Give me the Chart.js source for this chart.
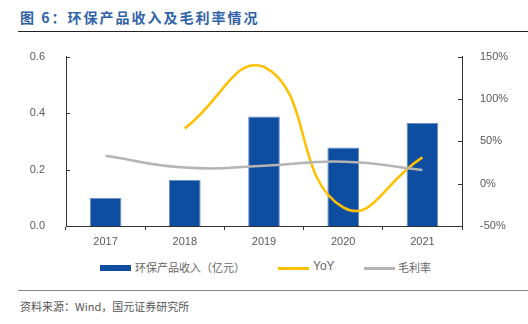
<!DOCTYPE html>
<html lang="zh">
<head>
  <meta charset="UTF-8" />
  <title>环保产品收入及毛利率情况</title>
  <style>
    body {
      margin: 0;
      width: 528px;
      height: 324px;
      background: #fff;
      position: relative;
      overflow: hidden;
      font-family: "Liberation Sans", Arial, sans-serif;
    }
    .title {
      position: absolute;
      left: 20px;
      top: 7px;
      font-family: "Noto Sans CJK SC", sans-serif;
      font-size: 14px;
      font-weight: bold;
      color: #2f62a8;
      letter-spacing: 2px;
    }
    .rule-top {
      position: absolute;
      left: 18px;
      right: 0;
      top: 31px;
      border-top: 1.5px solid #222;
    }
    .rule-bottom {
      position: absolute;
      left: 18px;
      right: 0;
      top: 290px;
      border-top: 1.5px solid #888;
    }
    .source {
      position: absolute;
      left: 20px;
      top: 298px;
      font-family: "Noto Sans CJK SC", sans-serif;
      font-size: 11px;
      color: #555;
    }
    #wrap {
      position: absolute;
      left: 0;
      top: 37px;
      width: 528px;
      height: 219px;
    }
    .legend {
      position: absolute;
      top: 259px;
      left: 0;
      width: 528px;
      font-family: "Noto Sans CJK SC", sans-serif;
      font-size: 11px;
      color: #666;
    }
    .legend span { position: absolute; white-space: nowrap; }
    .legend i { position: absolute; display: block; width: 31px; }
  </style>
</head>
<body>
  <div class="title">图 6：环保产品收入及毛利率情况</div>
  <div class="rule-top"></div>

  <div id="wrap"><canvas id="chart"></canvas></div>

  <div class="legend">
    <i style="left:100px; top:6px; height:6px; background:#0d4ea0;"></i>
    <span style="left:135px; top:0;">环保产品收入（亿元）</span>
    <i style="left:278px; top:8px; height:3px; background:#ffc000;"></i>
    <span style="left:313px; top:0; font-family:'Liberation Sans',Arial,sans-serif; font-size:12px;">YoY</span>
    <i style="left:364px; top:8px; height:3px; background:#b4b4b4;"></i>
    <span style="left:398px; top:0;">毛利率</span>
  </div>

  <div class="rule-bottom"></div>
  <div class="source">资料来源：Wind，国元证券研究所</div>

  <script src="https://cdn.jsdelivr.net/npm/chart.js"></script>
  <script>
    const years = ['2017', '2018', '2019', '2020', '2021'];
    const revenue = [0.099, 0.163, 0.388, 0.278, 0.365];   // 亿元
    const yoy = [null, 65, 138, -28, 31];                  // %
    const margin = [33, 19, 21, 26, 16];                   // %

    const leftTicks = [0, 0.2, 0.4, 0.6];
    const rightTicks = [-50, 0, 50, 100, 150];

    const tickFont = { family: "'Liberation Sans', Arial, sans-serif", size: 11 };
    const tickColor = '#595959';
    const axisColor = '#333';

    // short tick marks on the y axes, pointing into the plot
    const innerTicks = {
      id: 'innerTicks',
      afterDraw(chart) {
        const ctx = chart.ctx;
        const yl = chart.scales.y, yr = chart.scales.y1;
        ctx.save();
        ctx.strokeStyle = axisColor;
        ctx.lineWidth = 1;
        ctx.beginPath();
        leftTicks.forEach(v => {
          const py = Math.round(yl.getPixelForValue(v)) + 0.5;
          ctx.moveTo(yl.right, py);
          ctx.lineTo(yl.right + 4, py);
        });
        rightTicks.forEach(v => {
          const py = Math.round(yr.getPixelForValue(v)) + 0.5;
          ctx.moveTo(yr.left, py);
          ctx.lineTo(yr.left - 4, py);
        });
        ctx.stroke();
        ctx.restore();
      }
    };

    new Chart(document.getElementById('chart'), {
      data: {
        labels: years,
        datasets: [
          {
            type: 'bar',
            label: '环保产品收入（亿元）',
            data: revenue,
            yAxisID: 'y',
            backgroundColor: '#0d4ea0',
            borderColor: '#6f8fc4',
            borderWidth: { top: 1, left: 1, right: 1, bottom: 0 },
            categoryPercentage: 1,
            barPercentage: 0.4,
            order: 3
          },
          {
            type: 'line',
            label: 'YoY',
            data: yoy,
            yAxisID: 'y1',
            borderColor: '#ffc000',
            borderWidth: 2.5,
            pointRadius: 0,
            tension: 0.5,
            fill: false,
            order: 2
          },
          {
            type: 'line',
            label: '毛利率',
            data: margin,
            yAxisID: 'y1',
            borderColor: '#b4b4b4',
            borderWidth: 2.5,
            pointRadius: 0,
            tension: 0.5,
            fill: false,
            order: 1
          }
        ]
      },
      options: {
        responsive: true,
        maintainAspectRatio: false,
        animation: false,
        layout: { padding: { top: 4, left: 0, right: 0, bottom: 0 } },
        plugins: {
          legend: { display: false },
          tooltip: { enabled: false }
        },
        scales: {
          x: {
            grid: {
              display: true,
              drawOnChartArea: false,
              drawTicks: true,
              tickLength: 4,
              color: axisColor
            },
            border: { color: axisColor, width: 1 },
            ticks: { color: tickColor, font: tickFont, padding: 5 },
            afterFit(s) { s.height = 30; }
          },
          y: {
            position: 'left',
            min: 0,
            max: 0.6,
            afterBuildTicks(s) { s.ticks = leftTicks.map(v => ({ value: v })); },
            grid: { display: false },
            border: { color: axisColor, width: 1 },
            ticks: {
              color: tickColor,
              font: tickFont,
              padding: 13,
              callback: v => v.toFixed(1)
            },
            afterFit(s) { s.width = 66; }
          },
          y1: {
            position: 'right',
            min: -50,
            max: 150,
            afterBuildTicks(s) { s.ticks = rightTicks.map(v => ({ value: v })); },
            grid: { display: false },
            border: { color: axisColor, width: 1 },
            ticks: {
              color: tickColor,
              font: tickFont,
              padding: 10,
              callback: v => v + '%'
            },
            afterFit(s) { s.width = 66; }
          }
        }
      },
      plugins: [innerTicks]
    });
  </script>
</body>
</html>
